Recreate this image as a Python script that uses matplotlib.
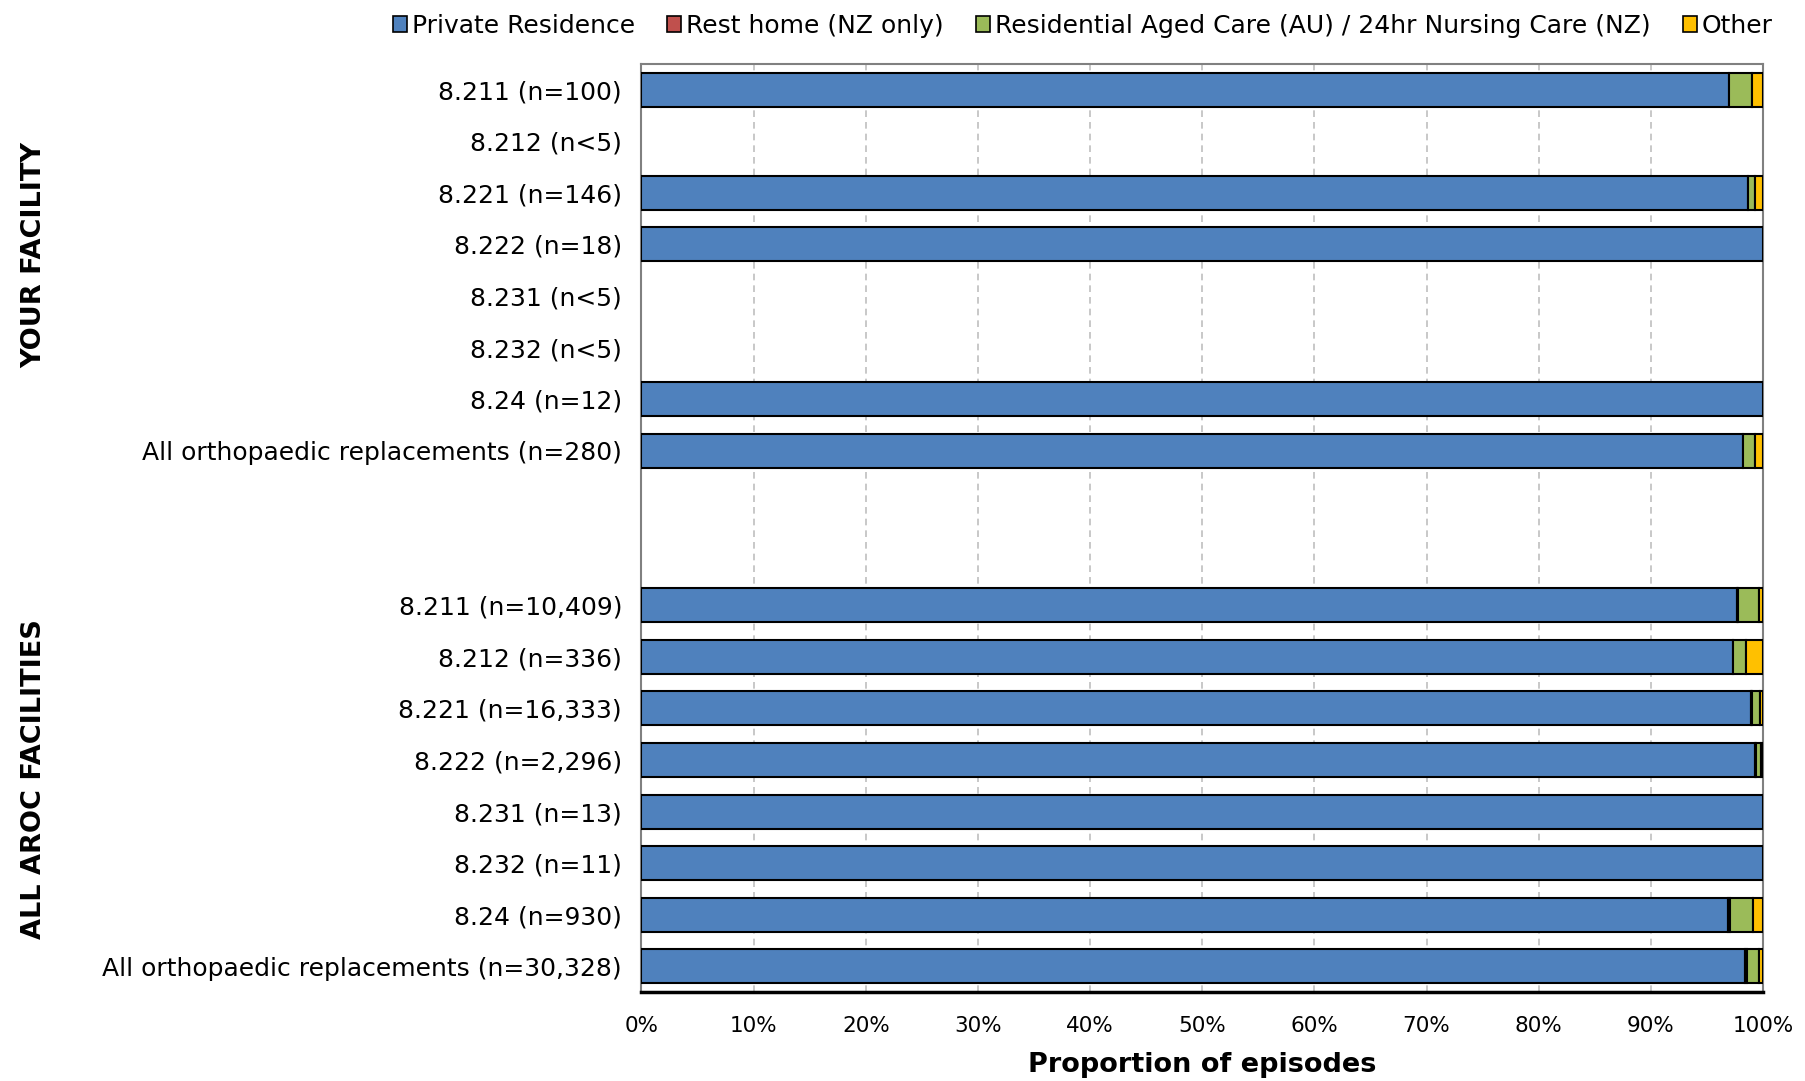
import matplotlib
matplotlib.use("Agg")
import matplotlib.pyplot as plt
from matplotlib.patches import Patch
import numpy as np

plt.rcParams['font.family'] = ['DejaVu Sans']

# rows from top to bottom; "" marks the blank spacer rows between the groups
labels = ["8.211 (n=100)", "8.212 (n<5)", "8.221 (n=146)", "8.222 (n=18)",
          "8.231 (n<5)", "8.232 (n<5)", "8.24 (n=12)",
          "All orthopaedic replacements (n=280)",
          "", "",
          "8.211 (n=10,409)", "8.212 (n=336)", "8.221 (n=16,333)", "8.222 (n=2,296)",
          "8.231 (n=13)", "8.232 (n=11)", "8.24 (n=930)",
          "All orthopaedic replacements (n=30,328)"]

# percentages for each row (0 where the group has no data shown)
private   = [97.0, 0, 98.63, 100, 0, 0, 100, 98.21, 0, 0,
             97.7, 97.3, 98.9, 99.3, 100, 100, 96.9, 98.4]
rest_home = [0, 0, 0, 0, 0, 0, 0, 0, 0, 0,
             0.05, 0, 0.15, 0.05, 0, 0, 0.15, 0.15]
res_care  = [2.0, 0, 0.68, 0, 0, 0, 0, 1.07, 0, 0,
             1.85, 1.2, 0.7, 0.45, 0, 0, 2.05, 1.05]
other     = [1.0, 0, 0.69, 0, 0, 0, 0, 0.72, 0, 0,
             0.4, 1.5, 0.25, 0.2, 0, 0, 0.9, 0.4]

series = ["Private Residence", "Rest home (NZ only)",
          "Residential Aged Care (AU) / 24hr Nursing Care (NZ)", "Other"]
colors = ["#4F81BD", "#C0504D", "#9BBB59", "#FFC000"]

fig = plt.figure(figsize=(18.06, 10.81), dpi=100)
ax = fig.add_axes([0.3552, 0.0823, 0.6210, 0.8585])

y = np.arange(len(labels))
left = np.zeros(len(labels))
for vals, col in zip([private, rest_home, res_care, other], colors):
    vals = np.array(vals)
    mask = vals > 0
    ax.barh(y[mask], vals[mask], left=left[mask], height=0.66, color=col,
            edgecolor="black", linewidth=1.5, zorder=3)
    left += vals

ax.set_xlim(0, 100)
ax.set_ylim(len(labels) - 0.5, -0.5)
ax.set_yticks(y)
ax.set_yticklabels(labels, fontsize=18)
ax.tick_params(axis="y", length=0, pad=14)
ax.set_xticks(np.arange(0, 101, 10))
ax.set_xticklabels([f"{v}%" for v in range(0, 101, 10)], fontsize=15.5)
ax.tick_params(axis="x", length=0, pad=17)
ax.xaxis.grid(True, linestyle=(0, (4, 3)), color="#BFBFBF", linewidth=1.2, zorder=0)
ax.set_axisbelow(True)

for side in ["left", "top", "right"]:
    ax.spines[side].set_color("#808080")
    ax.spines[side].set_linewidth(1.5)
ax.spines["bottom"].set_color("black")
ax.spines["bottom"].set_linewidth(2.5)

ax.set_xlabel("Proportion of episodes", fontsize=19.5, fontweight="bold", labelpad=12)

fig.text(0.019, 0.764, "YOUR FACILITY", rotation=90, fontsize=19.5,
         fontweight="bold", ha="center", va="center")
fig.text(0.019, 0.279, "ALL AROC FACILITIES", rotation=90, fontsize=19.5,
         fontweight="bold", ha="center", va="center")

handles = [Patch(facecolor=c, edgecolor="black", linewidth=1.2) for c in colors]
fig.legend(handles, series, loc="upper right", bbox_to_anchor=(0.994, 1.008),
           ncol=4, frameon=False, fontsize=18, handlelength=0.55, handleheight=0.55,
           handletextpad=0.2, columnspacing=1.3)

fig.savefig("out.png", dpi=100)
